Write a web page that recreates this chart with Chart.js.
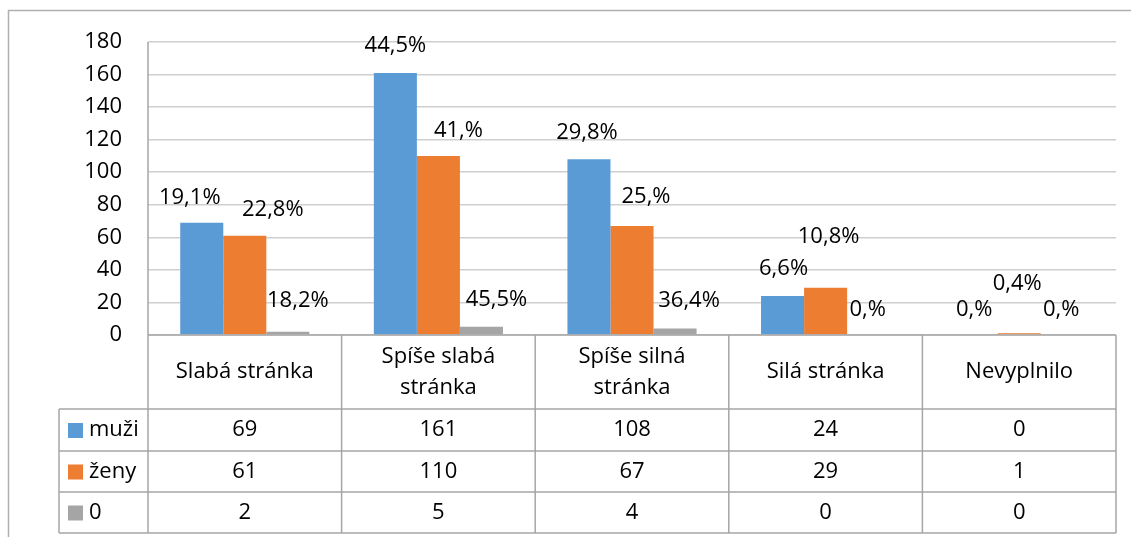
<!DOCTYPE html>
<html>
<head>
<meta charset="utf-8">
<style>
  html, body { margin: 0; padding: 0; background: #fff; }
  canvas { display: block; }
</style>
<script src="https://cdn.jsdelivr.net/npm/chart.js@4/dist/chart.umd.min.js"></script>
</head>
<body>
<canvas id="myChart" width="1131" height="537"></canvas>
<script>
let categories = [['Slabá stránka'], ['Spíše slabá', 'stránka'], ['Spíše silná', 'stránka'], ['Silá stránka'], ['Nevyplnilo']];
let seriesNames = ['muži', 'ženy', '0'];
let muzi = [69, 161, 108, 24, 0];
let zeny = [61, 110, 67, 29, 1];
let nula = [2, 5, 4, 0, 0];
let muziPct = ['19,1%', '44,5%', '29,8%', '6,6%', '0,%'];
let zenyPct = ['22,8%', '41,%', '25,%', '10,8%', '0,4%'];
let nulaPct = ['18,2%', '45,5%', '36,4%', '0,%', '0,%'];
let colorHex = ['#5b9bd5', '#ed7d31', '#a5a5a5'];

let FONT = '"Open Sans", sans-serif';
let FONT_SIZE = 22;

// nudges for the percentage labels (dataset -> [dx, dy] per category), like the hand-moved Excel labels
let labelNudge = [
  [[-12, -25], [0, -27], [-2, -26], [1, -27], [-2, -25]],
  [[28, -26], [20, -25], [14, -29], [3, -51], [-2, -50]],
  [[10, -31], [15, -27], [14, -28], [-1, -25], [-1, -25]]
];

let tablePlugin = {
  id: 'dataTable',
  afterDraw(chart) {
    let c = chart.ctx;
    let area = chart.chartArea;
    let x = chart.scales.x;
    let n = categories.length;
    let half = (x.getPixelForValue(1) - x.getPixelForValue(0)) / 2;
    let edges = [];
    for (let i = 0; i < n; i++) edges.push(x.getPixelForValue(i) - half);
    edges.push(x.getPixelForValue(n - 1) + half);

    let legendLeft = 59;
    let headTop = area.bottom;
    let rowTops = [409, 451, 492, 533];

    c.save();
    c.strokeStyle = '#a6a6a6';
    c.lineWidth = 1.5;
    c.beginPath();
    // horizontal lines
    c.moveTo(area.left, headTop); c.lineTo(edges[n], headTop);
    rowTops.forEach(y => { c.moveTo(legendLeft, y); c.lineTo(edges[n], y); });
    // vertical lines
    c.moveTo(legendLeft, rowTops[0]); c.lineTo(legendLeft, rowTops[3]);
    c.moveTo(area.left, area.top); c.lineTo(area.left, rowTops[3]);
    for (let i = 1; i <= n; i++) { c.moveTo(edges[i], headTop); c.lineTo(edges[i], rowTops[3]); }
    c.stroke();

    c.fillStyle = '#000';
    c.font = FONT_SIZE + 'px ' + FONT;
    c.textAlign = 'center';
    c.textBaseline = 'middle';
    // header
    categories.forEach((lines, i) => {
      let cx = (edges[i] + edges[i + 1]) / 2;
      let cy = (headTop + rowTops[0]) / 2;
      let lh = 31;
      lines.forEach((t, k) => {
        c.fillText(t, cx, cy + (k - (lines.length - 1) / 2) * lh);
      });
    });
    // rows
    chart.data.datasets.forEach((ds, r) => {
      let cy = (rowTops[r] + rowTops[r + 1]) / 2;
      c.fillStyle = ds.backgroundColor;
      c.fillRect(legendLeft + 9, cy - 7, 15, 15);
      c.fillStyle = '#000';
      c.textAlign = 'left';
      c.fillText(ds.label, legendLeft + 30, cy);
      c.textAlign = 'center';
      ds.data.forEach((v, i) => {
        c.fillText(String(v), (edges[i] + edges[i + 1]) / 2, cy);
      });
    });

    // outer frame (left and top visible)
    c.strokeStyle = '#b0b0b0';
    c.lineWidth = 1.5;
    c.beginPath();
    c.moveTo(8.5, 537); c.lineTo(8.5, 10.5); c.lineTo(1131, 10.5);
    c.stroke();
    c.restore();
  }
};

let pctPlugin = {
  id: 'pctLabels',
  afterDatasetsDraw(chart) {
    let c = chart.ctx;
    let pct = [muziPct, zenyPct, nulaPct];
    c.save();
    c.fillStyle = '#000';
    c.font = FONT_SIZE + 'px ' + FONT;
    c.textAlign = 'center';
    c.textBaseline = 'middle';
    chart.data.datasets.forEach((ds, d) => {
      chart.getDatasetMeta(d).data.forEach((bar, i) => {
        let nudge = labelNudge[d][i];
        c.fillText(pct[d][i], bar.x + nudge[0], bar.y + nudge[1]);
      });
    });
    c.restore();
  }
};

let ctx = document.getElementById('myChart').getContext('2d');
let myChart = new Chart(ctx, {
  type: 'bar',
  data: {
    labels: categories.map(l => l.join(' ')),
    datasets: [
      { label: seriesNames[0], data: muzi, backgroundColor: colorHex[0] },
      { label: seriesNames[1], data: zeny, backgroundColor: colorHex[1] },
      { label: seriesNames[2], data: nula, backgroundColor: colorHex[2] }
    ]
  },
  options: {
    responsive: false,
    animation: false,
    layout: { padding: { top: 42, right: 15, bottom: 202, left: 0 } },
    datasets: { bar: { categoryPercentage: 0.667, barPercentage: 1 } },
    plugins: {
      legend: { display: false },
      tooltip: { enabled: false }
    },
    scales: {
      x: { display: false },
      y: {
        min: 0,
        max: 180,
        ticks: { stepSize: 20, padding: 26, color: '#000', font: { family: FONT, size: FONT_SIZE } },
        grid: { color: '#cfcfcf', lineWidth: 1.5, drawTicks: false },
        border: { display: false },
        afterFit(scale) { scale.width = 148; }
      }
    }
  },
  plugins: [pctPlugin, tablePlugin]
});
</script>
</body>
</html>
